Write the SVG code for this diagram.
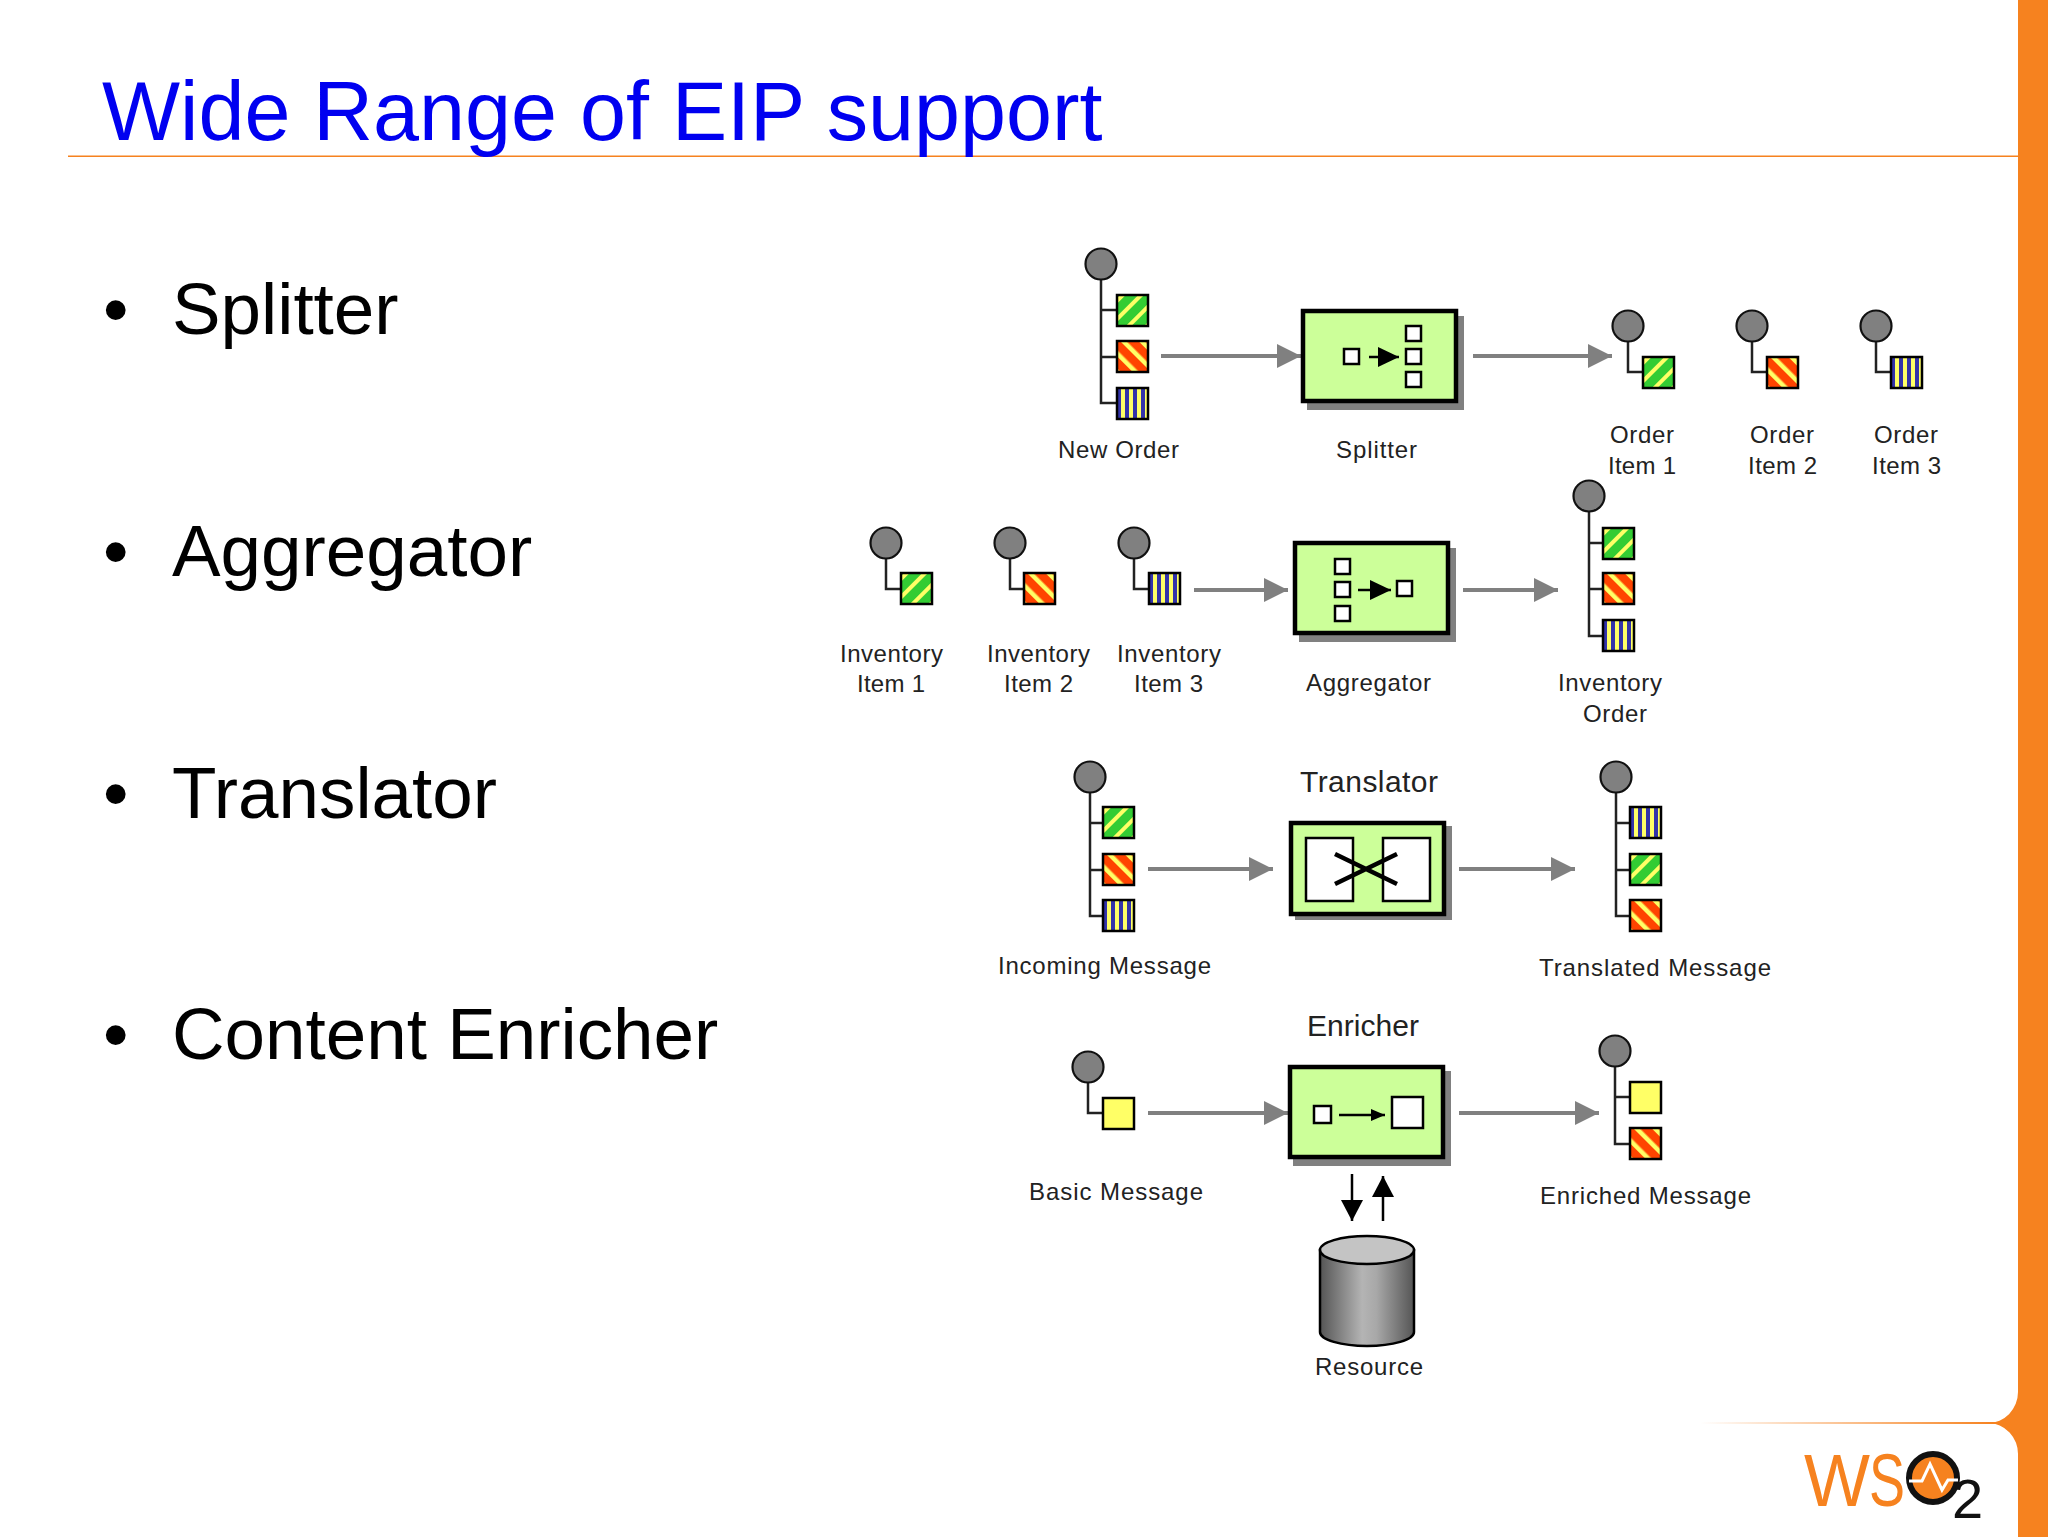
<svg xmlns="http://www.w3.org/2000/svg" width="2048" height="1537" viewBox="0 0 2048 1537">
<style>
text{font-family:"Liberation Sans",Arial,sans-serif}
.title{font-size:82.700px;fill:#0000f0}
.bullet{font-size:72.800px;fill:#000}
.lbl{font-size:24px;fill:#222}
.lbl2{font-size:30px;fill:#222}
.root{fill:#808080;stroke:#111;stroke-width:2.200}
.stem{fill:none;stroke:#222;stroke-width:2.500}
.shadow{fill:#808080}
.box{fill:#ccff99;stroke:#000;stroke-width:4.500}
.inner{fill:#fff;stroke:#000;stroke-width:2.500}
.flow{fill:none;stroke:#808080;stroke-width:4;marker-end:url(#gh)}
.blk{fill:none;stroke:#000;stroke-width:2.500}
.x{fill:none;stroke:#000;stroke-width:4.500}
</style>
<defs>
<pattern id="pg" patternUnits="userSpaceOnUse" width="13" height="13" patternTransform="translate(3 0) rotate(45)"><rect width="13" height="13" fill="#33cc33"/><rect width="4" height="13" fill="#ffff66"/></pattern>
<pattern id="pr" patternUnits="userSpaceOnUse" width="13" height="13" patternTransform="translate(3 0) rotate(-45)"><rect width="13" height="13" fill="#ff4400"/><rect width="4.500" height="13" fill="#ffff66"/></pattern>
<pattern id="pb" patternUnits="userSpaceOnUse" width="8" height="8"><rect width="8" height="8" fill="#3333aa"/><rect x="4" width="4" height="8" fill="#ffff66"/></pattern>
<rect id="sg" width="31" height="31" fill="url(#pg)" stroke="#000" stroke-width="2.500"/>
<rect id="sr" width="31" height="31" fill="url(#pr)" stroke="#000" stroke-width="2.500"/>
<rect id="sb" width="31" height="31" fill="url(#pb)" stroke="#000" stroke-width="2.500"/>
<rect id="sy" width="31" height="31" fill="#ffff66" stroke="#000" stroke-width="2.500"/>
<marker id="gh" markerUnits="userSpaceOnUse" markerWidth="24" markerHeight="24" refX="24" refY="12" orient="auto"><path d="M0 0L24 12L0 24Z" fill="#808080"/></marker>
<marker id="bh" markerUnits="userSpaceOnUse" markerWidth="21" markerHeight="22" refX="21" refY="11" orient="auto"><path d="M0 0L21 11L0 22Z" fill="#000"/></marker>
<marker id="bb" markerUnits="userSpaceOnUse" markerWidth="21" markerHeight="20" refX="21" refY="10" orient="auto"><path d="M0 0L21 10L0 20Z" fill="#000"/></marker>
<marker id="bs" markerUnits="userSpaceOnUse" markerWidth="14" markerHeight="14" refX="14" refY="7" orient="auto"><path d="M0 1L14 7L0 13Z" fill="#000"/></marker>
<linearGradient id="fade" gradientUnits="userSpaceOnUse" x1="1700" y1="0" x2="1995" y2="0"><stop offset="0" stop-color="#f6821f" stop-opacity="0"/><stop offset="1" stop-color="#f6821f"/></linearGradient>
<linearGradient id="cyl" x1="0" y1="0" x2="1" y2="0"><stop offset="0" stop-color="#555"/><stop offset=".45" stop-color="#b4b4b4"/><stop offset=".6" stop-color="#a8a8a8"/><stop offset="1" stop-color="#555"/></linearGradient>
</defs>
<rect width="2048" height="1537" fill="#fff"/>
<g id="slide-frame">
<path d="M2018 0H2048V1537H2018V1455A30 31 0 0 0 1988 1423A30 31 0 0 0 2018 1392Z" fill="#f6821f"/>
<rect x="68" y="155.500" width="1950" height="1.500" fill="#f6821f"/>
<rect x="1700" y="1422" width="295" height="2" fill="url(#fade)"/>
</g>
<text class="title" x="102" y="140">Wide Range of EIP support</text>
<g id="bullets">
<text class="bullet" x="103" y="334">•</text><text class="bullet" x="172" y="334">Splitter</text>
<text class="bullet" x="103" y="576">•</text><text class="bullet" x="172" y="576">Aggregator</text>
<text class="bullet" x="103" y="818">•</text><text class="bullet" x="172" y="818">Translator</text>
<text class="bullet" x="103" y="1059">•</text><text class="bullet" x="172" y="1059">Content Enricher</text>
</g>
<g id="connectors">
<line class="flow" x1="1161" y1="356" x2="1301" y2="356"/>
<line class="flow" x1="1473" y1="356" x2="1612" y2="356"/>
<line class="flow" x1="1194" y1="590" x2="1288" y2="590"/>
<line class="flow" x1="1463" y1="590" x2="1558" y2="590"/>
<line class="flow" x1="1148" y1="869" x2="1273" y2="869"/>
<line class="flow" x1="1459" y1="869" x2="1575" y2="869"/>
<line class="flow" x1="1148" y1="1113" x2="1288" y2="1113"/>
<line class="flow" x1="1459" y1="1113" x2="1599" y2="1113"/>
<line class="blk" x1="1352" y1="1174" x2="1352" y2="1221" marker-end="url(#bh)"/>
<line class="blk" x1="1383" y1="1221" x2="1383" y2="1176" marker-end="url(#bh)"/>
</g>
<g id="new-order">
<path class="stem" d="M1101 264V403H1117M1101 310H1117M1101 357H1117"/><circle class="root" cx="1101" cy="264" r="15.500"/>
<use href="#sg" x="1117" y="295"/><use href="#sr" x="1117" y="341"/><use href="#sb" x="1117" y="388"/>
<text class="lbl" x="1058" y="458" textLength="121">New Order</text>
</g>
<g id="splitter">
<rect class="shadow" x="1307" y="316" width="157" height="94"/><rect class="box" x="1303" y="311" width="153" height="90"/>
<rect class="inner" x="1344" y="349" width="15" height="15"/><rect class="inner" x="1406" y="326" width="15" height="15"/><rect class="inner" x="1406" y="349" width="15" height="15"/><rect class="inner" x="1406" y="372" width="15" height="15"/>
<line class="blk" x1="1369" y1="357" x2="1399" y2="357" marker-end="url(#bb)"/>
<text class="lbl" x="1336" y="458" textLength="81">Splitter</text>
</g>
<g id="order-item-1">
<path class="stem" d="M1628 326V372H1643"/><circle class="root" cx="1628" cy="326" r="15.500"/><use href="#sg" x="1643" y="357"/>
<text class="lbl" x="1610" y="443" textLength="64">Order</text><text class="lbl" x="1608" y="474" textLength="68">Item 1</text>
</g>
<g id="order-item-2">
<path class="stem" d="M1752 326V372H1767"/><circle class="root" cx="1752" cy="326" r="15.500"/><use href="#sr" x="1767" y="357"/>
<text class="lbl" x="1750" y="443" textLength="64">Order</text><text class="lbl" x="1748" y="474" textLength="69">Item 2</text>
</g>
<g id="order-item-3">
<path class="stem" d="M1876 326V372H1891"/><circle class="root" cx="1876" cy="326" r="15.500"/><use href="#sb" x="1891" y="357"/>
<text class="lbl" x="1874" y="443" textLength="64">Order</text><text class="lbl" x="1872" y="474" textLength="69">Item 3</text>
</g>
<g id="inventory-item-1">
<path class="stem" d="M886 543V589H901"/><circle class="root" cx="886" cy="543" r="15.500"/><use href="#sg" x="901" y="573"/>
<text class="lbl" x="840" y="662" textLength="103">Inventory</text><text class="lbl" x="857" y="692" textLength="68">Item 1</text>
</g>
<g id="inventory-item-2">
<path class="stem" d="M1010 543V589H1024"/><circle class="root" cx="1010" cy="543" r="15.500"/><use href="#sr" x="1024" y="573"/>
<text class="lbl" x="987" y="662" textLength="103">Inventory</text><text class="lbl" x="1004" y="692" textLength="69">Item 2</text>
</g>
<g id="inventory-item-3">
<path class="stem" d="M1134 543V589H1149"/><circle class="root" cx="1134" cy="543" r="15.500"/><use href="#sb" x="1149" y="573"/>
<text class="lbl" x="1117" y="662" textLength="104">Inventory</text><text class="lbl" x="1134" y="692" textLength="69">Item 3</text>
</g>
<g id="aggregator">
<rect class="shadow" x="1299" y="548" width="157" height="94"/><rect class="box" x="1295" y="543" width="153" height="90"/>
<rect class="inner" x="1335" y="559" width="15" height="15"/><rect class="inner" x="1335" y="582" width="15" height="15"/><rect class="inner" x="1335" y="606" width="15" height="15"/><rect class="inner" x="1397" y="581" width="15" height="15"/>
<line class="blk" x1="1358" y1="590" x2="1391" y2="590" marker-end="url(#bb)"/>
<text class="lbl" x="1306" y="691" textLength="125">Aggregator</text>
</g>
<g id="inventory-order">
<path class="stem" d="M1589 496V636H1603M1589 543H1603M1589 589H1603"/><circle class="root" cx="1589" cy="496" r="15.500"/>
<use href="#sg" x="1603" y="528"/><use href="#sr" x="1603" y="573"/><use href="#sb" x="1603" y="620"/>
<text class="lbl" x="1558" y="691" textLength="104">Inventory</text><text class="lbl" x="1583" y="722" textLength="64">Order</text>
</g>
<g id="incoming-message">
<path class="stem" d="M1090 777V916H1103M1090 823H1103M1090 870H1103"/><circle class="root" cx="1090" cy="777" r="15.500"/>
<use href="#sg" x="1103" y="807"/><use href="#sr" x="1103" y="854"/><use href="#sb" x="1103" y="900"/>
<text class="lbl" x="998" y="974" textLength="213">Incoming Message</text>
</g>
<g id="translator">
<text class="lbl2" x="1300" y="792" textLength="138">Translator</text>
<rect class="shadow" x="1295" y="826" width="157" height="94"/><rect class="box" x="1291" y="823" width="153" height="91"/>
<rect class="inner" x="1306" y="838" width="47" height="63"/><rect class="inner" x="1383" y="838" width="47" height="63"/>
<path class="x" d="M1335 854L1397 884M1335 884L1397 854"/>
</g>
<g id="translated-message">
<path class="stem" d="M1616 777V916H1630M1616 823H1630M1616 870H1630"/><circle class="root" cx="1616" cy="777" r="15.500"/>
<use href="#sb" x="1630" y="807"/><use href="#sg" x="1630" y="854"/><use href="#sr" x="1630" y="900"/>
<text class="lbl" x="1539" y="976" textLength="232">Translated Message</text>
</g>
<g id="basic-message">
<path class="stem" d="M1088 1067V1113H1102"/><circle class="root" cx="1088" cy="1067" r="15.500"/><use href="#sy" x="1103" y="1098"/>
<text class="lbl" x="1029" y="1200" textLength="174">Basic Message</text>
</g>
<g id="enricher">
<text class="lbl2" x="1307" y="1036" textLength="112">Enricher</text>
<rect class="shadow" x="1293" y="1071" width="158" height="95"/><rect class="box" x="1290" y="1067" width="153" height="90"/>
<rect class="inner" x="1314" y="1106" width="17" height="17"/><rect class="inner" x="1392" y="1097" width="31" height="31"/>
<line class="blk" x1="1339" y1="1115" x2="1385" y2="1115" marker-end="url(#bs)"/>
</g>
<g id="enriched-message">
<path class="stem" d="M1615 1051V1144H1630M1615 1097H1630"/><circle class="root" cx="1615" cy="1051" r="15.500"/>
<use href="#sy" x="1630" y="1082"/><use href="#sr" x="1630" y="1128"/>
<text class="lbl" x="1540" y="1204" textLength="211">Enriched Message</text>
</g>
<g id="resource">
<path d="M1320 1250V1332A47 14 0 0 0 1414 1332V1250Z" fill="url(#cyl)" stroke="#000" stroke-width="2.500"/>
<ellipse cx="1367" cy="1250" rx="47" ry="14" fill="#c4c4c4" stroke="#000" stroke-width="2.500"/>
<text class="lbl" x="1315" y="1375" textLength="108">Resource</text>
</g>
<g id="wso2-logo">
<text x="1804" y="1506" font-size="74" fill="#f6821f" textLength="66" lengthAdjust="spacingAndGlyphs">W</text>
<text x="1869" y="1506" font-size="74" fill="#f6821f" textLength="36" lengthAdjust="spacingAndGlyphs">S</text>
<circle cx="1933" cy="1478" r="24" fill="#f6821f" stroke="#111" stroke-width="6"/>
<path d="M1909 1481H1922L1930 1464L1942 1490L1948 1480H1958" fill="none" stroke="#fff" stroke-width="3"/>
<text x="1952" y="1518" font-size="56" fill="#111">2</text>
</g>
</svg>
